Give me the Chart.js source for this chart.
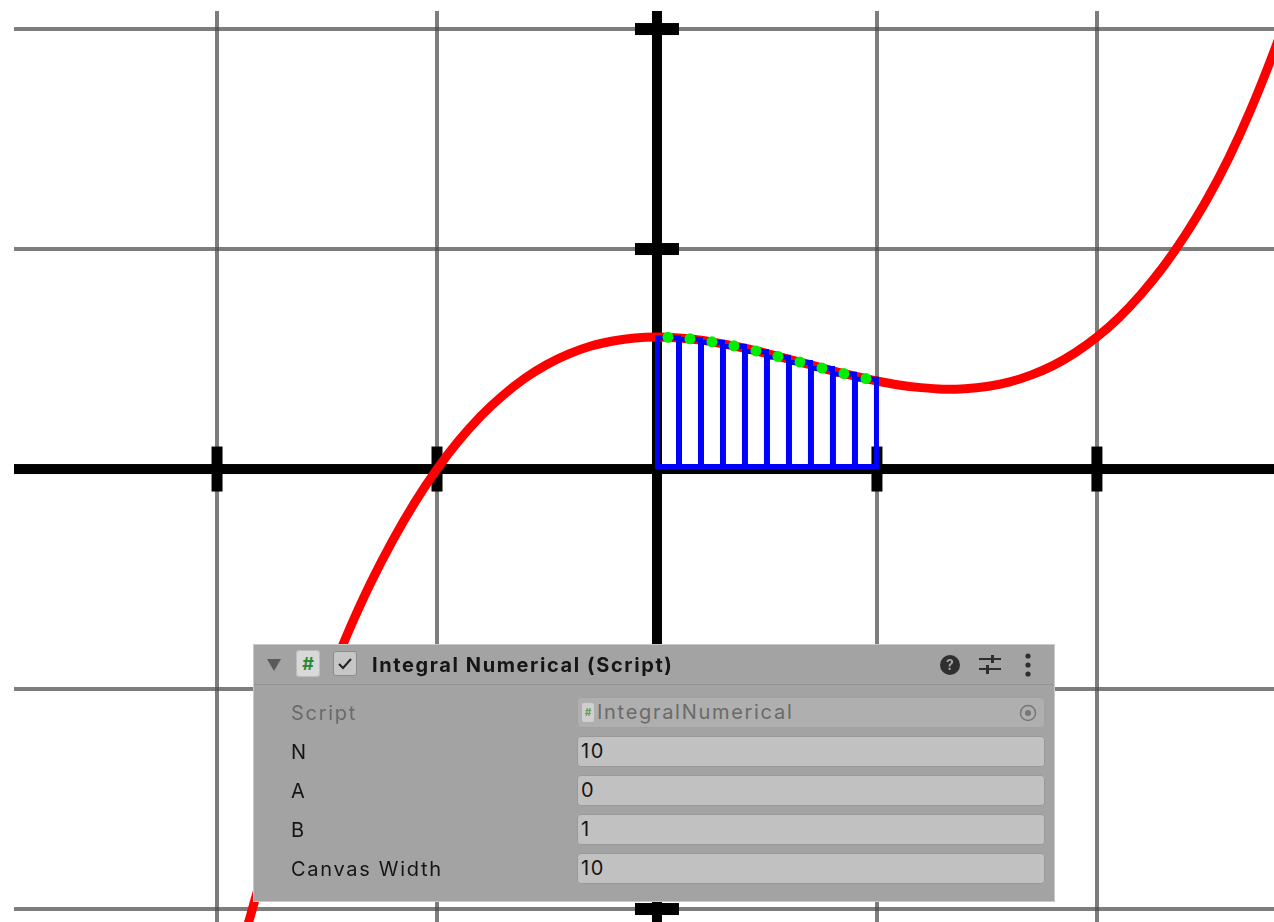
<!DOCTYPE html>
<html>
<head>
<meta charset="utf-8">
<title>Integral Numerical</title>
<script src="https://cdn.jsdelivr.net/npm/chart.js@4.4.0/dist/chart.umd.min.js"></script>
<style>
  html, body { margin: 0; padding: 0; background: #fff; }
  #wrap { position: relative; width: 1274px; height: 922px; overflow: hidden; }
  #plot { position: absolute; left: 0; top: 0; }

  .insp {
    position: absolute; left: 254px; top: 645px; width: 800px; height: 256px;
    background: #a3a3a3; box-shadow: 0 0 0 1px #c9c9c9;
    font-family: Inter, "Noto Sans", sans-serif; font-size: 20px; color: #151515;
    letter-spacing: 1.7px;
  }
  .insp > * { position: absolute; }
  .sep { left: 0; top: 39px; width: 800px; height: 1px; background: #949494; }
  .fold { left: 13px; top: 14px; }
  .ico-hash {
    left: 42px; top: 5px; width: 24px; height: 27px; border-radius: 4px;
    background: #d9d9d9; box-shadow: inset 0 0 0 1px #bdbdbd; letter-spacing: 0;
    color: #2f8a35; font-weight: 700; font-size: 18px; line-height: 27px; text-align: center;
  }
  .chk {
    left: 79px; top: 6px; width: 24px; height: 25px; border-radius: 3px;
    background: #c6c6c6; box-shadow: inset 0 0 0 1px #8c8c8c;
  }
  .title { left: 118px; top: 7px; font-weight: 700; line-height: 26px; white-space: nowrap; letter-spacing: 1.6px; }
  .help {
    left: 686px; top: 10px; width: 20px; height: 20px; border-radius: 50%;
    background: #2f2f2f; color: #a3a3a3; font-weight: 700; font-size: 14px;
    line-height: 20px; text-align: center; letter-spacing: 0;
  }
  .sliders { left: 725px; top: 10px; }
  .kebab { left: 770px; top: 8px; }
  .lbl { left: 37px; line-height: 30px; white-space: nowrap; }
  .box {
    left: 323px; width: 468px; height: 31px; border-radius: 4px;
    background: #c1c1c1; box-shadow: inset 0 0 0 1px #999;
    line-height: 31px; padding-left: 4px; box-sizing: border-box; white-space: nowrap;
  }
  .dim { color: #6a6a6a; }
  .box.dim { background: #afafaf; box-shadow: inset 0 0 0 1px #a0a0a0; padding-left: 20px; }
  .mini {
    position: absolute; left: 5px; top: 6px; width: 12px; height: 19px;
    background: #cfcfcf; border-radius: 2px; color: #5d9a60; font-size: 10px; line-height: 19px;
    text-align: center; font-weight: 700; letter-spacing: 0;
  }
  .target { position: absolute; right: 8px; top: 7px; }
</style>
</head>
<body>
<div id="wrap">
  <canvas id="plot" width="1274" height="922"></canvas>

  <div class="insp">
    <svg class="fold" width="14" height="12"><polygon points="0,0 14,0 7,12" fill="#5a5a5a"/></svg>
    <div class="ico-hash">#</div>
    <div class="chk"><svg width="24" height="25"><polyline points="6,13 10,17 18,8" fill="none" stroke="#222" stroke-width="2"/></svg></div>
    <div class="title">Integral Numerical (Script)</div>
    <div class="help">?</div>
    <svg class="sliders" width="22" height="20">
      <rect x="0" y="3" width="22" height="2" fill="#2e2e2e"/>
      <rect x="12" y="0" width="3" height="8" fill="#2e2e2e"/>
      <rect x="0" y="13" width="22" height="2" fill="#2e2e2e"/>
      <rect x="7" y="10" width="3" height="9" fill="#2e2e2e"/>
    </svg>
    <svg class="kebab" width="8" height="26">
      <circle cx="4" cy="3" r="2.6" fill="#2e2e2e"/>
      <circle cx="4" cy="12" r="2.6" fill="#2e2e2e"/>
      <circle cx="4" cy="21" r="2.6" fill="#2e2e2e"/>
    </svg>
    <div class="sep"></div>

    <div class="lbl dim" style="top:53px">Script</div>
    <div class="box dim" style="top:52px"><span class="mini">#</span>IntegralNumerical
      <svg class="target" width="18" height="18">
        <circle cx="9" cy="9" r="7.5" fill="none" stroke="#777" stroke-width="1.5"/>
        <circle cx="9" cy="9" r="3" fill="#777"/>
      </svg>
    </div>

    <div class="lbl" style="top:92px">N</div>
    <div class="box" style="top:91px">10</div>

    <div class="lbl" style="top:131px">A</div>
    <div class="box" style="top:130px">0</div>

    <div class="lbl" style="top:170px">B</div>
    <div class="box" style="top:169px">1</div>

    <div class="lbl" style="top:209px">Canvas Width</div>
    <div class="box" style="top:208px">10</div>
  </div>
</div>

<script>
// f(x) sampled every 0.1 along the visible range
const curveX = [-1.9, -1.8, -1.7, -1.6, -1.5, -1.4, -1.3, -1.2, -1.1, -1.0,
                -0.9, -0.8, -0.7, -0.6, -0.5, -0.4, -0.3, -0.2, -0.1, 0,
                0.1, 0.2, 0.3, 0.4, 0.5, 0.6, 0.7, 0.8, 0.9, 1.0,
                1.1, 1.2, 1.3, 1.4, 1.5, 1.6, 1.7, 1.8, 1.9, 2.0,
                2.1, 2.2, 2.3, 2.4, 2.5, 2.6, 2.7, 2.8, 2.9];
const curveY = [-2.216, -1.862, -1.539, -1.243, -0.975, -0.733, -0.515, -0.322, -0.150, 0,
                0.130, 0.242, 0.335, 0.413, 0.475, 0.523, 0.559, 0.582, 0.596, 0.6,
                0.596, 0.586, 0.569, 0.549, 0.525, 0.499, 0.473, 0.446, 0.422, 0.4,
                0.382, 0.370, 0.363, 0.365, 0.375, 0.395, 0.427, 0.470, 0.528, 0.6,
                0.688, 0.794, 0.917, 1.061, 1.225, 1.415, 1.635, 1.885, 2.16];

// midpoint rule, N = 10 strips on [A, B] = [0, 1]
const stripMid = [0.05, 0.15, 0.25, 0.35, 0.45, 0.55, 0.65, 0.75, 0.85, 0.95];
const stripHeight = [0.599, 0.592, 0.578, 0.560, 0.537, 0.512, 0.486, 0.459, 0.434, 0.411];

const xTicks = [-2, -1, 0, 1, 2];
const yTicks = [-2, -1, 0, 1, 2];

const GRID = 'rgba(75,75,75,0.72)';

// black axes through the origin with cross marks at whole units
const axisMarks = {
  id: 'axisMarks',
  beforeDatasetsDraw(chart) {
    const {ctx, chartArea: a, scales: {x, y}} = chart;
    const x0 = x.getPixelForValue(0);
    const y0 = y.getPixelForValue(0);
    ctx.save();
    ctx.fillStyle = '#000';
    ctx.fillRect(a.left, y0 - 5, a.right - a.left, 10);
    ctx.fillRect(x0 - 5, a.top, 10, a.bottom - a.top);
    xTicks.forEach(v => {
      if (v === 0) return;
      const px = x.getPixelForValue(v);
      ctx.fillRect(px - 5.5, y0 - 22.5, 11, 45);
    });
    yTicks.forEach(v => {
      if (v === 0) return;
      const py = y.getPixelForValue(v);
      ctx.fillRect(x0 - 22, py - 6, 44, 12);
    });
    ctx.restore();
  }
};

const gridOpts = {
  display: true,
  offset: false,
  drawTicks: false,
  color: c => (c.tick && c.tick.value === 0) ? 'rgba(0,0,0,0)' : GRID,
  lineWidth: 4
};

new Chart(document.getElementById('plot'), {
  type: 'line',
  data: {
    datasets: [
      {
        label: 'samples',
        data: stripMid.map((v, i) => ({x: v, y: stripHeight[i]})),
        showLine: false,
        pointRadius: 5.5,
        pointBackgroundColor: '#00ee00',
        pointBorderWidth: 0
      },
      {
        type: 'bar',
        label: 'strips',
        data: stripMid.map((v, i) => ({x: v, y: stripHeight[i]})),
        backgroundColor: 'rgba(0,0,0,0)',
        borderColor: '#0000ff',
        borderWidth: 1,
        inflateAmount: 2,
        borderSkipped: false,
        barPercentage: 1,
        categoryPercentage: 1,
        grouped: false
      },
      {
        label: 'f(x)',
        data: curveX.map((v, i) => ({x: v, y: curveY[i]})),
        borderColor: '#ff0000',
        borderWidth: 9,
        pointRadius: 0,
        tension: 0.3,
        fill: false
      }
    ]
  },
  options: {
    responsive: false,
    animation: false,
    events: [],
    layout: {autoPadding: false, padding: {left: 14, top: 11, right: 0, bottom: 0}},
    plugins: {legend: {display: false}, tooltip: {enabled: false}},
    scales: {
      x: {
        type: 'linear', min: -2.923, max: 2.805, offset: false,
        afterBuildTicks: s => { s.ticks = xTicks.map(v => ({value: v})); },
        afterFit: s => { s.height = 0; },
        ticks: {display: false},
        border: {display: false},
        grid: gridOpts
      },
      y: {
        type: 'linear', min: -2.059, max: 2.082,
        afterBuildTicks: s => { s.ticks = yTicks.map(v => ({value: v})); },
        afterFit: s => { s.width = 0; },
        ticks: {display: false},
        border: {display: false},
        grid: gridOpts
      }
    }
  },
  plugins: [axisMarks]
});
</script>
</body>
</html>
